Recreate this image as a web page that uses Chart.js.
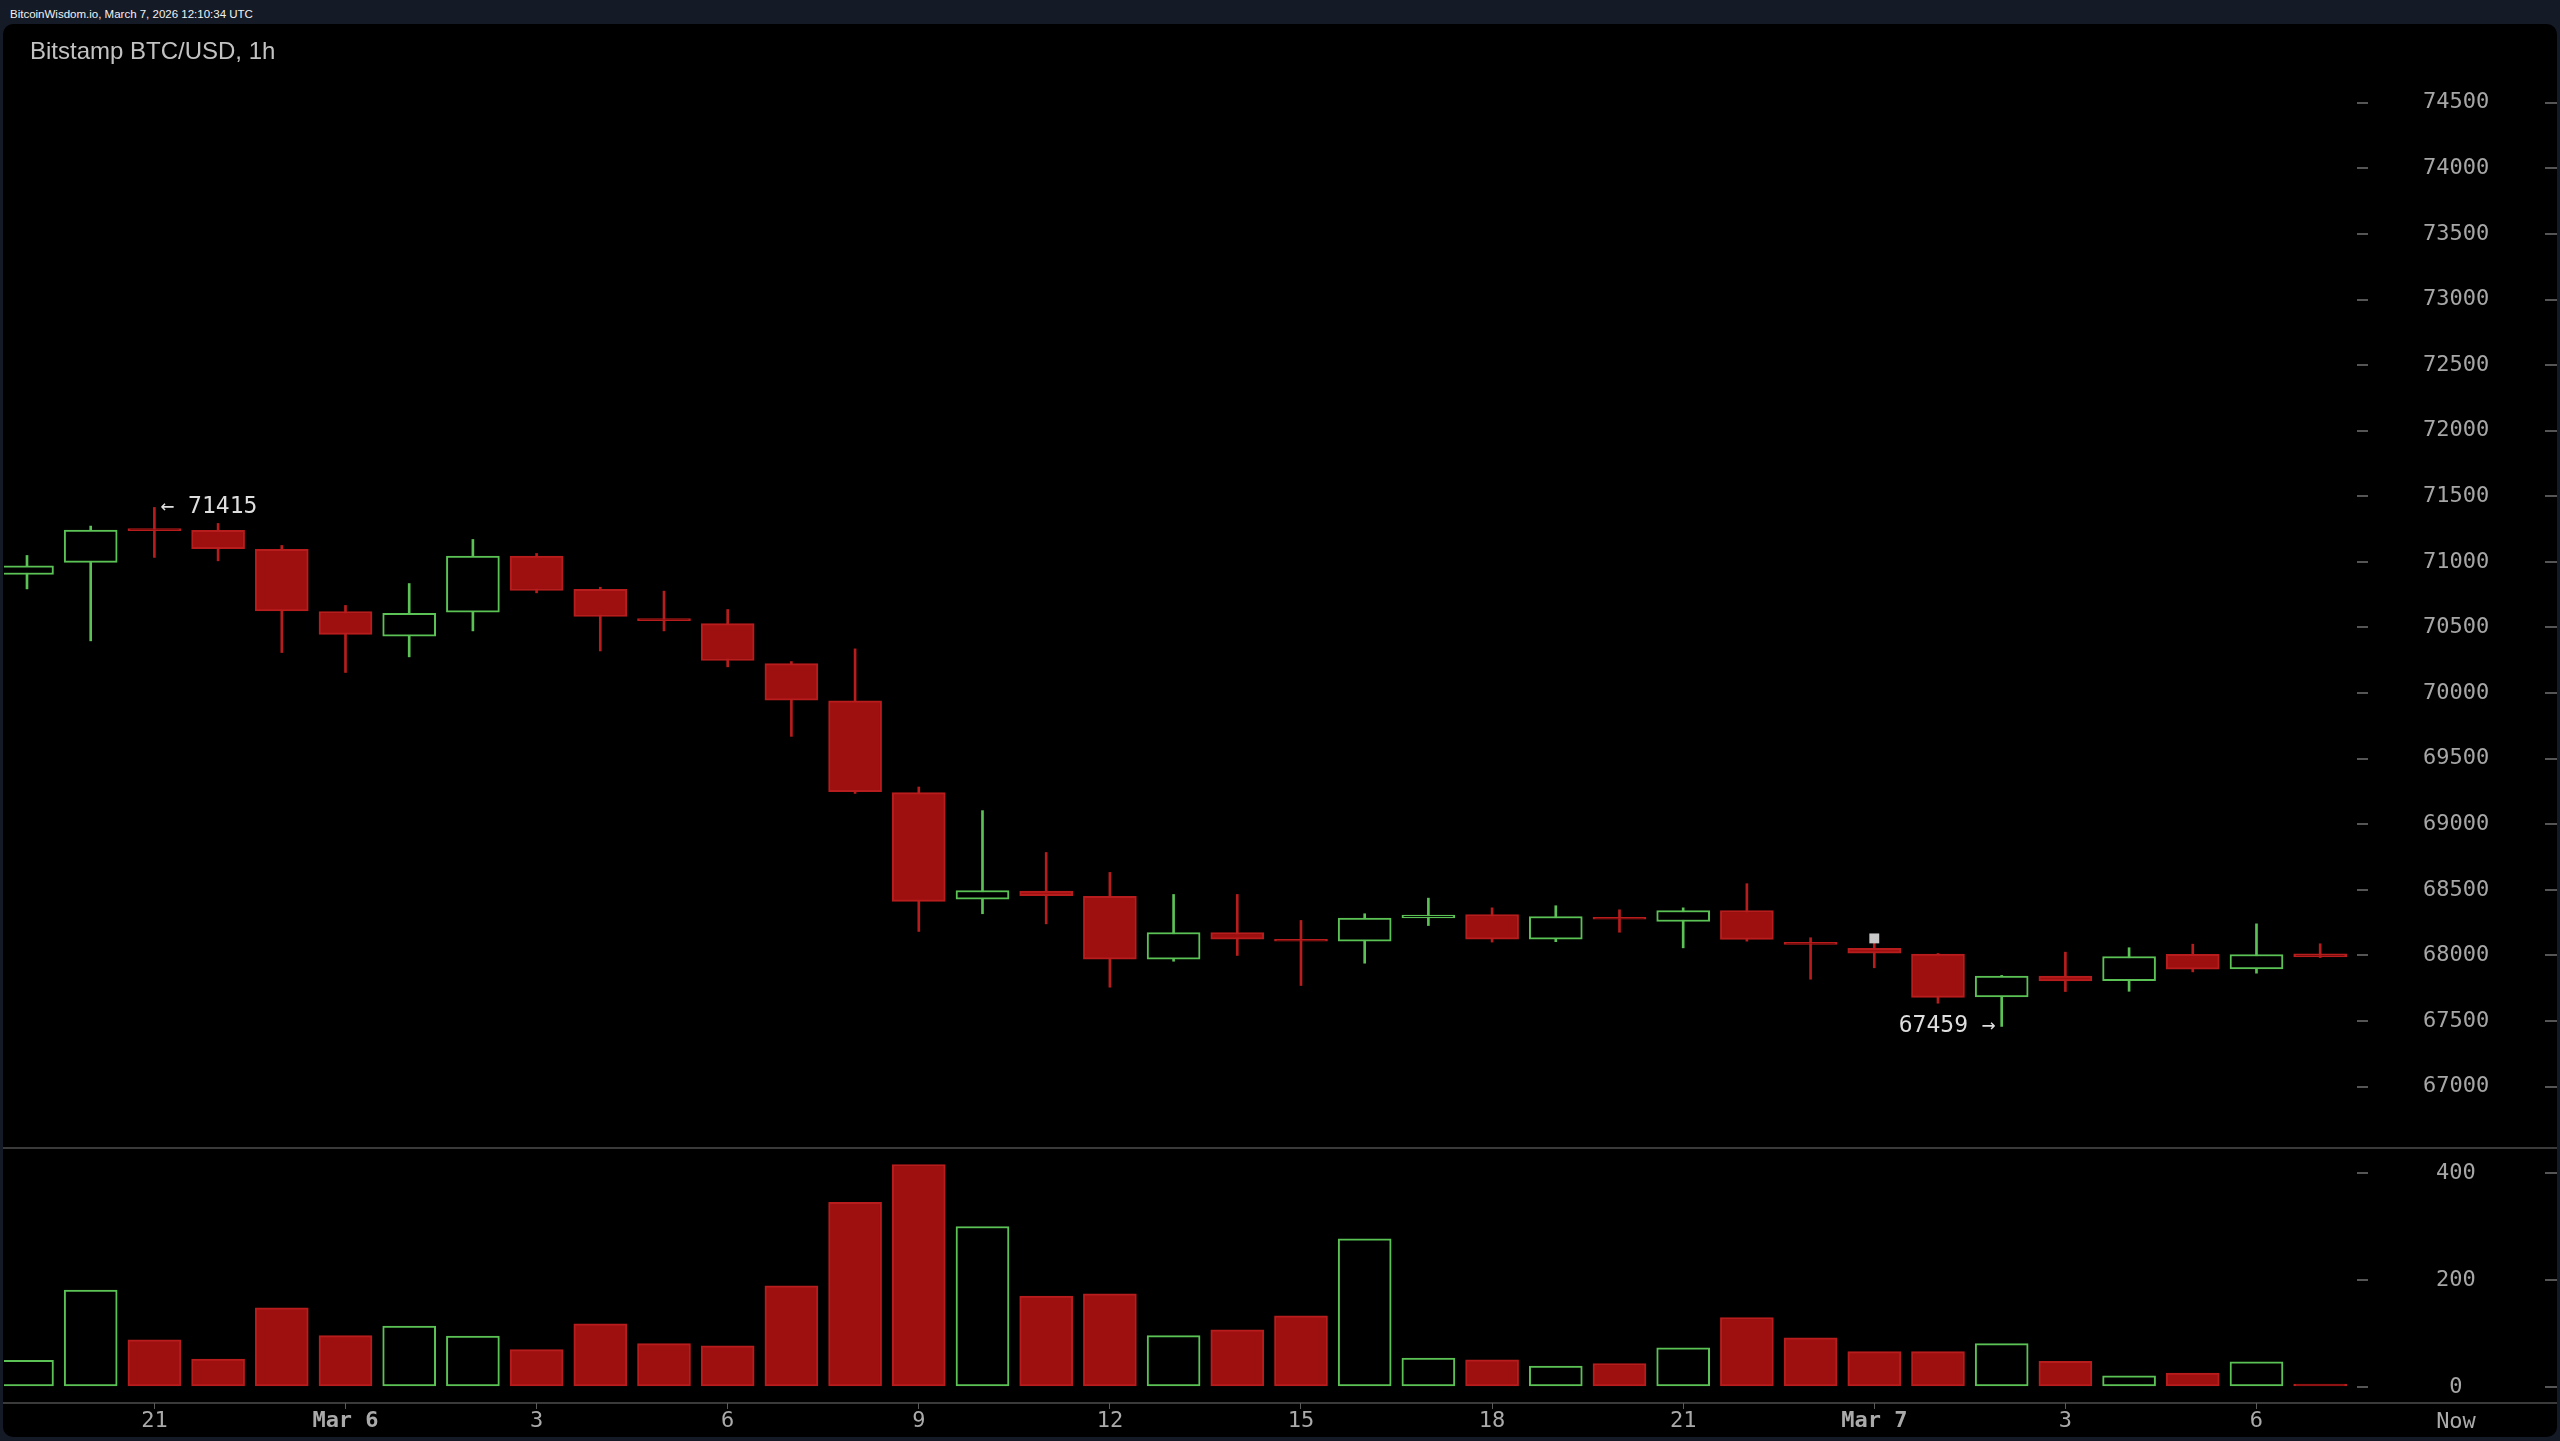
<!DOCTYPE html>
<html>
<head>
<meta charset="utf-8">
<title>Bitstamp BTC/USD, 1h</title>
<script src="https://cdn.jsdelivr.net/npm/chart.js@4.4.1/dist/chart.umd.min.js"></script>
<style>
  html, body { margin: 0; padding: 0; }
  body { width: 2560px; height: 1441px; background: #151a27; position: relative; overflow: hidden; }
  #topbar { position: absolute; left: 10px; top: 8px; font: 11.5px "Liberation Sans", Arial, sans-serif; line-height: 12px; color: #f2f2f2; white-space: nowrap; }
  #panel { position: absolute; left: 3px; top: 24px; width: 2554px; height: 1413px; background: #000; border-radius: 10px; }
  #title { position: absolute; left: 30px; top: 39px; font: 24px "Liberation Sans", Arial, sans-serif; line-height: 24px; color: #c2c2c2; white-space: nowrap; }
  .hline { position: absolute; left: 3px; width: 2554px; height: 2px; background: #3a3a3a; }
  canvas { position: absolute; left: 0; }
  #now { position: absolute; left: 2426px; width: 60px; top: 1408px; text-align: center; font: 22px "DejaVu Sans Mono", monospace; line-height: 26px; color: #aaaaaa; }
</style>
</head>
<body>
<div id="topbar">BitcoinWisdom.io, March 7, 2026 12:10:34 UTC</div>
<div id="panel"></div>
<div class="hline" style="top:1147px"></div>
<div class="hline" style="top:1402px"></div>
<canvas id="priceChart" width="2560" height="1123" style="top:24px"></canvas>
<canvas id="volumeChart" width="2560" height="288" style="top:1149px"></canvas>
<div id="title">Bitstamp BTC/USD, 1h</div>
<div id="now">Now</div>
<script>
// hourly candles, Mar 5 19:00 UTC -> Mar 7 07:00 UTC
const opens  = [70904, 70996, 71245, 71240, 71095, 70622, 70433, 70616, 71044, 70790, 70560, 70530,
                70225, 69940, 69241, 68429, 68490, 68450, 67971, 68175, 68115, 68109, 68287, 68312,
                68125, 68283, 68259, 68343, 68092, 68055, 68010, 67684, 67842, 67807, 68009, 67898, 68012];
const highs  = [71049, 71273, 71415, 71293, 71125, 70668, 70835, 71171, 71064, 70807, 70777, 70637,
                70240, 70337, 69284, 69104, 68785, 68633, 68465, 68465, 68267, 68318, 68437, 68363,
                68379, 68348, 68363, 68547, 68135, 68135, 68015, 67848, 68025, 68059, 68086, 68241, 68089];
const lows   = [70794, 70398, 71034, 71008, 70309, 70157, 70276, 70474, 70764, 70321, 70474, 70200,
                69670, 69235, 68183, 68318, 68241, 67758, 67956, 68000, 67771, 67941, 68228, 68102,
                68105, 68177, 68058, 68109, 67819, 67906, 67636, 67459, 67725, 67727, 67875, 67865, 67984];
const closes = [70970, 71242, 71238, 71100, 70627, 70447, 70607, 71044, 70782, 70584, 70552, 70248,
                69945, 69248, 68412, 68495, 68456, 67971, 68175, 68125, 68108, 68284, 68308, 68125,
                68297, 68276, 68343, 68122, 68085, 68017, 67681, 67842, 67805, 67992, 67895, 68007, 67988];
const volumes = [50, 181, 88, 52, 148, 96, 114, 95, 70, 118, 81, 77,
                 189, 345, 416, 300, 170, 174, 96, 107, 133, 277, 54, 51,
                 39, 44, 73, 130, 92, 66, 66, 81, 48, 21, 26, 47, 4];

const xTickIdx    = [2, 5, 8, 11, 14, 17, 20, 23, 26, 29, 32, 35];
const xTickLabels = ["21", "Mar 6", "3", "6", "9", "12", "15", "18", "21", "Mar 7", "3", "6"];
const priceTicks  = [67000, 67500, 68000, 68500, 69000, 69500, 70000, 70500, 71000, 71500, 72000, 72500, 73000, 73500, 74000, 74500];
const volumeTicks = [0, 200, 400];
const markerPoints = [{ x: 29, y: 68130 }];

const GREEN = "#5bc255";
const RED_FILL = "#9e0f0f";
const RED_LINE = "#b81d1d";
const MONO = "DejaVu Sans Mono";

const isUp = opens.map((o, i) => closes[i] > o);

function xAxis(show) {
  return {
    type: "linear",
    min: -0.361,
    max: 36.578,
    bounds: "data",
    offset: false,
    display: show,
    afterBuildTicks: (s) => { s.ticks = xTickIdx.map((v) => ({ value: v })); },
    afterFit: (s) => { s.height = show ? 34 : 0; s.paddingLeft = 0; s.paddingRight = 0; },
    grid: { display: true, drawOnChartArea: false, drawTicks: true, tickLength: 6, color: "#5a5a5a", lineWidth: 1, offset: false },
    border: { display: false },
    ticks: {
      autoSkip: false,
      maxRotation: 0,
      padding: 0,
      color: "#aaaaaa",
      font: (ctx) => ({ family: MONO, size: 22, lineHeight: 1.1, weight: String(xTickLabels[ctx.index] || "").startsWith("Mar") ? "bold" : "normal" }),
      callback: (v, i) => xTickLabels[i],
    },
  };
}

function yAxis(min, max, ticks, pad) {
  return {
    type: "linear",
    position: "right",
    min: min,
    max: max,
    afterBuildTicks: (s) => { s.ticks = ticks.map((v) => ({ value: v })); },
    afterFit: (s) => { s.width = 200; s.paddingTop = 0; s.paddingBottom = 0; },
    grid: { drawOnChartArea: false, drawTicks: true, tickLength: 11, color: "#555555", lineWidth: 2 },
    border: { display: false },
    ticks: { crossAlign: "center", padding: pad, color: "#a6a6a6", font: { family: MONO, size: 22 }, callback: (v) => String(v) },
  };
}

// small dashes on the far right edge, next to each axis label
const edgeTicks = {
  id: "edgeTicks",
  afterDraw(chart) {
    const y = chart.scales.y;
    const ctx = chart.ctx;
    ctx.save();
    ctx.strokeStyle = "#555555";
    ctx.lineWidth = 2;
    y.ticks.forEach((t) => {
      const py = Math.round(y.getPixelForValue(t.value));
      ctx.beginPath();
      ctx.moveTo(chart.width - 15, py);
      ctx.lineTo(chart.width - 3, py);
      ctx.stroke();
    });
    ctx.restore();
  },
};

// "← high" and "low →" labels
const extremes = {
  id: "extremes",
  afterDatasetsDraw(chart) {
    const { x, y } = chart.scales;
    const ctx = chart.ctx;
    const hi = Math.max(...highs);
    const lo = Math.min(...lows);
    const hiIdx = highs.indexOf(hi);
    const loIdx = lows.indexOf(lo);
    ctx.save();
    ctx.font = "23px " + MONO;
    ctx.fillStyle = "#dedede";
    ctx.textBaseline = "middle";
    ctx.textAlign = "left";
    ctx.fillText("\u2190 " + hi, x.getPixelForValue(hiIdx) + 6, y.getPixelForValue(hi));
    ctx.textAlign = "right";
    ctx.fillText(lo + " \u2192", x.getPixelForValue(loIdx) - 6, y.getPixelForValue(lo));
    ctx.restore();
  },
};

const baseOptions = {
  responsive: false,
  animation: false,
  events: [],
  layout: { autoPadding: false, padding: { left: 4, right: 3, top: 0, bottom: 0 } },
  plugins: { legend: { display: false }, tooltip: { enabled: false } },
};

new Chart(document.getElementById("priceChart"), {
  type: "bar",
  data: {
    datasets: [
      {
        label: "marker",
        type: "line",
        data: markerPoints,
        showLine: false,
        pointStyle: "rect",
        pointRadius: 7,
        pointBackgroundColor: "#c9c9c9",
        pointBorderWidth: 0,
        order: 0,
      },
      {
        label: "body",
        data: opens.map((o, i) => ({ x: i, y: [o, closes[i]] })),
        backgroundColor: isUp.map((u) => (u ? "#000000" : RED_FILL)),
        borderColor: isUp.map((u) => (u ? GREEN : RED_LINE)),
        borderWidth: 2,
        borderSkipped: false,
        barThickness: 53,
        minBarLength: 2,
        grouped: false,
        order: 1,
      },
      {
        label: "wick",
        data: lows.map((l, i) => ({ x: i, y: [l, highs[i]] })),
        backgroundColor: isUp.map((u) => (u ? GREEN : RED_LINE)),
        borderWidth: 0,
        barThickness: 2,
        grouped: false,
        order: 2,
      },
    ],
  },
  options: Object.assign({}, baseOptions, {
    scales: {
      x: xAxis(false),
      y: yAxis(66540, 75100, priceTicks, 55),
    },
  }),
  plugins: [edgeTicks, extremes],
});

new Chart(document.getElementById("volumeChart"), {
  type: "bar",
  data: {
    datasets: [
      {
        label: "volume",
        data: volumes.map((v, i) => ({ x: i, y: v })),
        backgroundColor: isUp.map((u) => (u ? "#000000" : RED_FILL)),
        borderColor: isUp.map((u) => (u ? GREEN : RED_LINE)),
        borderWidth: 2,
        borderSkipped: false,
        barThickness: 53,
        minBarLength: 3,
        grouped: false,
      },
    ],
  },
  options: Object.assign({}, baseOptions, {
    scales: {
      x: xAxis(true),
      y: yAxis(-29.9, 444.9, volumeTicks, 68),
    },
  }),
  plugins: [edgeTicks],
});
</script>
</body>
</html>
